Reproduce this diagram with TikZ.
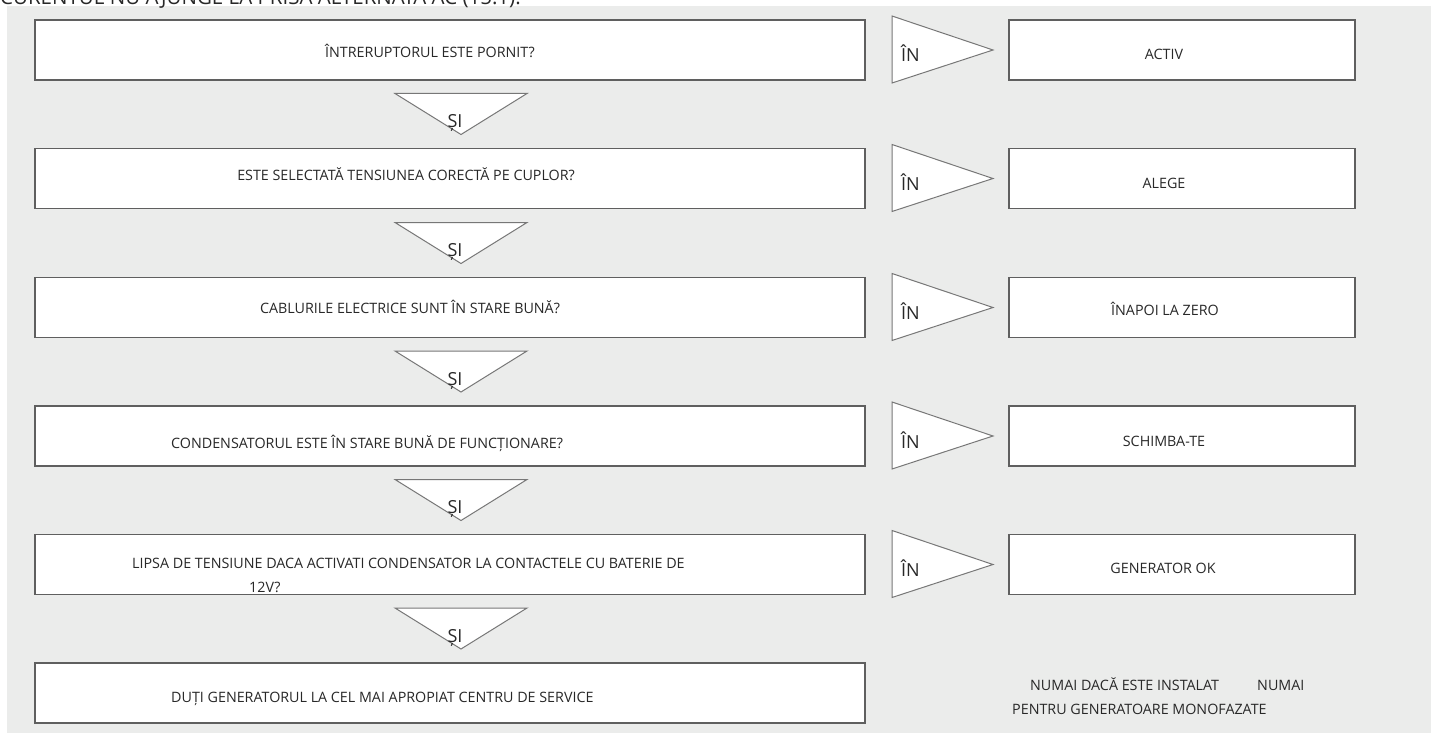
\documentclass[tikz,border=0pt]{standalone}
\usepackage{fontspec}
\setmainfont{Open Sans}
\definecolor{panelgray}{RGB}{235,236,235}
\definecolor{edgegray}{RGB}{95,95,95}
\definecolor{inkgray}{RGB}{40,40,40}

\begin{document}
\begin{tikzpicture}[x=1pt,y=-1pt,
  qbox/.style={draw=edgegray,line width=1.3pt,fill=white,minimum width=830pt,minimum height=60pt,inner sep=0pt},
  abox/.style={draw=edgegray,line width=1.3pt,fill=white,minimum width=346pt,minimum height=60pt,inner sep=0pt},
  txt/.style={text=inkgray,font=\fontsize{14.3}{17}\selectfont,inner sep=0pt,anchor=base},
  bigtxt/.style={text=inkgray,font=\fontsize{18}{21}\selectfont,inner sep=0pt,anchor=base},
  yestri/.style={draw=edgegray!85,line width=1pt,fill=white},
  andtri/.style={draw=edgegray!85,line width=1pt,fill=white}]
\useasboundingbox (0,0) rectangle (1431,733);
\fill[panelgray] (7,6) rectangle (1431,733);

% title, cut at the top edge
\node[bigtxt,font=\fontsize{20.5}{24}\selectfont,anchor=base west] (title) at (0,5) {CURENTUL NU AJUNGE LA PRISA ALTERNATA AC (15.1).};

% questions
\node[qbox] (q1) at (450,50) {};
\node[qbox] (q2) at (450,178.5) {};
\node[qbox] (q3) at (450,307.5) {};
\node[qbox] (q4) at (450,436) {};
\node[qbox] (q5) at (450,564.5) {};
\node[qbox] (q6) at (450,693) {};

\node[txt,anchor=base west] (q1t) at (325,58) {ÎNTRERUPTORUL ESTE PORNIT?};
\node[txt,anchor=base east] (q2t) at (575,180) {ESTE SELECTATĂ TENSIUNEA CORECTĂ PE CUPLOR?};
\node[txt] (q3t) at (410,313) {CABLURILE ELECTRICE SUNT ÎN STARE BUNĂ?};
\node[txt,anchor=base west] (q4t) at (171,448) {CONDENSATORUL ESTE ÎN STARE BUNĂ DE FUNCȚIONARE?};
\node[txt,anchor=base west] (q5t) at (132,568) {LIPSA DE TENSIUNE DACA ACTIVATI CONDENSATOR LA CONTACTELE CU BATERIE DE};
\node[txt,anchor=base west] (q5u) at (249,592) {12V?};
\node[txt,anchor=base west] (q6t) at (171,702) {DUȚI GENERATORUL LA CEL MAI APROPIAT CENTRU DE SERVICE};

% answers
\node[abox] (a1) at (1182,50) {};
\node[abox] (a2) at (1182,178.5) {};
\node[abox] (a3) at (1182,307.5) {};
\node[abox] (a4) at (1182,436) {};
\node[abox] (a5) at (1182,564.5) {};

\node[txt] (a1t) at (1164,60) {ACTIV};
\node[txt] (a2t) at (1164,188.5) {ALEGE};
\node[txt,anchor=base west] (a3t) at (1111,315) {ÎNAPOI LA ZERO};
\node[txt] (a4t) at (1164,446) {SCHIMBA-TE};
\node[txt] (a5t) at (1163,573) {GENERATOR OK};

% IN arrows
\draw[yestri] (892,16) -- (993,50) -- (892,83) -- cycle;
\draw[yestri] (892,144.5) -- (993,178.5) -- (892,211.5) -- cycle;
\draw[yestri] (892,273.5) -- (993,307.5) -- (892,340.5) -- cycle;
\draw[yestri] (892,402) -- (993,436) -- (892,469) -- cycle;
\draw[yestri] (892,530.5) -- (993,564.5) -- (892,597.5) -- cycle;
\node[bigtxt,anchor=base west] (y1) at (901,62) {ÎN};
\node[bigtxt,anchor=base west] (y2) at (901,190.5) {ÎN};
\node[bigtxt,anchor=base west] (y3) at (901,319.5) {ÎN};
\node[bigtxt,anchor=base west] (y4) at (901,448) {ÎN};
\node[bigtxt,anchor=base west] (y5) at (901,576.5) {ÎN};

% SI arrows
\draw[andtri] (395,93.5) -- (527,93.5) -- (461,134.5) -- cycle;
\draw[andtri] (395,222.5) -- (527,222.5) -- (461,263.5) -- cycle;
\draw[andtri] (395,351) -- (527,351) -- (461,392) -- cycle;
\draw[andtri] (395,479.5) -- (527,479.5) -- (461,520.5) -- cycle;
\draw[andtri] (395,608) -- (527,608) -- (461,649) -- cycle;
\node[bigtxt] (s1) at (455,127.5) {ȘI};
\node[bigtxt] (s2) at (455,256.5) {ȘI};
\node[bigtxt] (s3) at (455,385) {ȘI};
\node[bigtxt] (s4) at (455,513.5) {ȘI};
\node[bigtxt] (s5) at (455,642) {ȘI};

% notes
\node[txt,anchor=base west] (n1) at (1030,690) {NUMAI DACĂ ESTE INSTALAT};
\node[txt,anchor=base west] (n2) at (1257,690) {NUMAI};
\node[txt,anchor=base west] (n3) at (1012,714) {PENTRU GENERATOARE MONOFAZATE};
\end{tikzpicture}
\end{document}
